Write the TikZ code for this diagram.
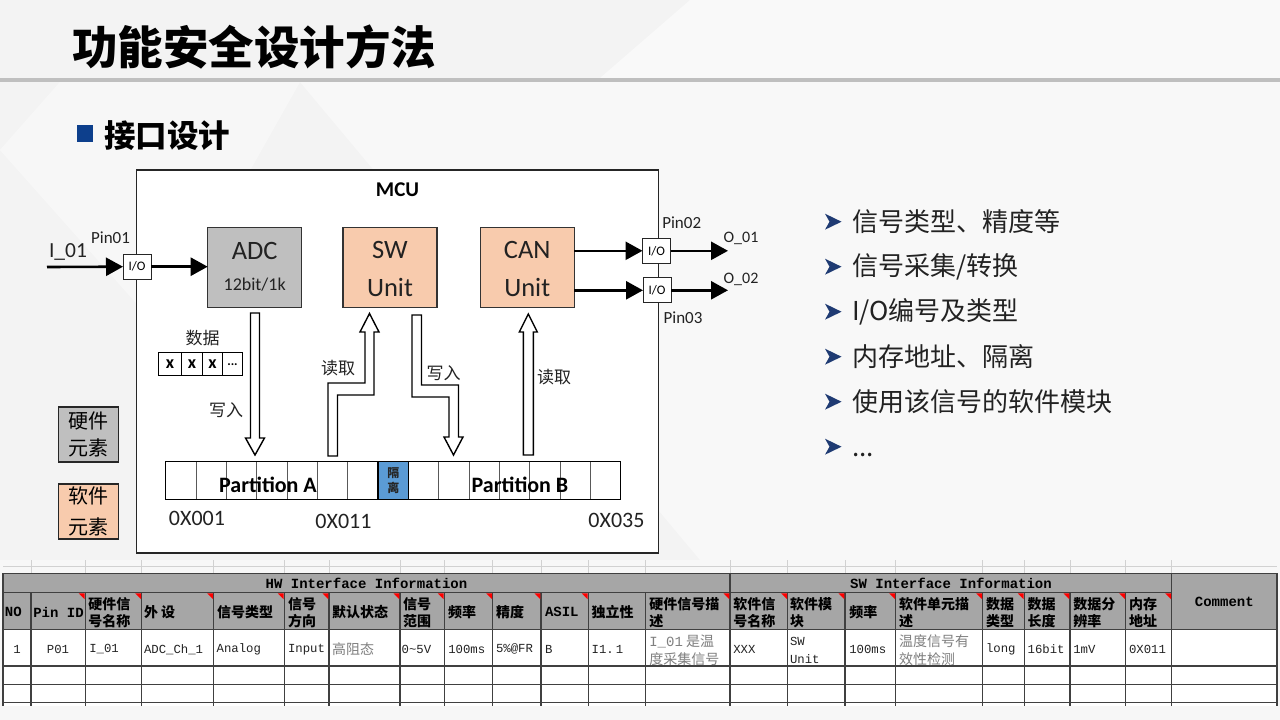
\documentclass[tikz,border=0pt]{standalone}
\usepackage{fontspec}
\setmainfont{Carlito}
\newfontfamily\cjk{Noto Sans CJK SC}
\newfontfamily\mono{Liberation Mono}
\usetikzlibrary{arrows.meta}
\definecolor{peach}{HTML}{F8CBAD}
\definecolor{hwgray}{HTML}{BFBFBF}
\definecolor{hdrgray}{HTML}{A6A6A6}
\definecolor{isoblue}{HTML}{5B9BD5}
\definecolor{navy}{HTML}{1F3B73}
\definecolor{sqblue}{HTML}{0D3F8C}
\definecolor{bgc}{HTML}{F3F3F3}
\definecolor{txt}{HTML}{222222}
\definecolor{graytxt}{HTML}{7F7F7F}
\newcommand\fsz[2]{\fontsize{#1}{#2}\selectfont}
\newcommand\bulletat[1]{\fill[navy] (825,#1-8) -- (841.5,#1) -- (825,#1+8) -- (829.5,#1) -- cycle;}
\tikzset{
  every node/.style={inner sep=0pt, outer sep=0pt},
  unitbox/.style={draw=black!80, line width=1.3pt, minimum width=94pt, minimum height=79.6pt},
  iobox/.style={draw=black!85, fill=white, line width=1pt, minimum width=28pt, minimum height=25pt, font=\fsz{13}{15}},
  thinarrow/.style={line width=2.6pt, -{Triangle[length=17pt,width=18pt]}},
  blockarrow/.style={draw=black, line width=1.4pt, fill=white, line join=miter},
  lbl/.style={font=\cjk\fsz{17}{20}, text=txt},
  pcell/.style={draw=black!65, line width=1pt, minimum width=30.33pt, minimum height=37.6pt, anchor=north west},
  xcell/.style={draw=black, line width=1.4pt, minimum height=23pt, font=\bfseries\fsz{18}{20}},
  legend/.style={draw=black!85, line width=1.2pt, minimum width=60pt, minimum height=55pt, align=center},
  bullettext/.style={anchor=west, font=\cjk\fsz{26}{30}, text=txt},
  tline/.style={draw=black!75, line width=1.2pt},
  thcn/.style={anchor=west, align=left, font=\cjk\bfseries\fsz{14}{17.5}, text=black},
  thmo/.style={anchor=west, align=left, font=\mono\bfseries\fsz{14}{17.5}, text=black},
  tdmo/.style={anchor=west, align=left, font=\mono\fsz{12.3}{18}, text=txt},
  tdcn/.style={anchor=west, align=left, font=\cjk\fsz{14}{18}, text=graytxt},
}
\begin{document}
\begin{tikzpicture}[x=1pt,y=-1pt]
\useasboundingbox (0,0) rectangle (1280,720);
% background
\fill[bgc] (0,0) rectangle (1280,720);
\fill[white,opacity=0.5] (690,0) -- (1280,0) -- (1280,78) -- (600,78) -- cycle;
\fill[white,opacity=0.45] (300,82) -- (1280,82) -- (1280,560) -- (700,560) -- cycle;
\fill[white,opacity=0.4] (0,150) -- (60,82) -- (300,82) -- (160,330) -- cycle;
\fill[white,opacity=0.4] (0,560) -- (1280,560) -- (1280,720) -- (0,720) -- cycle;
% title
\node[anchor=west, font=\cjk\bfseries\fsz{45.5}{50}, text=black] (title) at (72,47) {功能安全设计方法};
\fill[black!25] (0,78.3) rectangle (1280,81.7);
% subtitle
\fill[sqblue] (77,125) rectangle (93,142);
\node[anchor=west, font=\cjk\bfseries\fsz{31.5}{36}, text=black] (subtitle) at (104,136) {接口设计};

% MCU
\node[draw=black!85, line width=1.3pt, fill=white, minimum width=521.6pt, minimum height=383pt] (mcu) at (397.5,361.5) {};
\node[font=\bfseries\fsz{21}{24}] (mculbl) at (397.5,190) {MCU};

% units
\node[unitbox, fill=hwgray] (adc) at (254.7,267.5) {};
\node[font=\fsz{26.5}{30}, text=txt] (adct) at (254.7,251) {ADC};
\node[font=\fsz{18}{22}, text=txt] (adcs) at (254.7,285) {12bit/1k};
\node[unitbox, fill=peach] (sw) at (390,267.5) {};
\node[font=\fsz{26.5}{30}, text=txt] (swt) at (390,250) {SW};
\node[font=\fsz{26.5}{30}, text=txt] (swu) at (390,287) {Unit};
\node[unitbox, fill=peach] (can) at (527.2,267.5) {};
\node[font=\fsz{26.5}{30}, text=txt] (cant) at (527.2,250) {CAN};
\node[font=\fsz{26.5}{30}, text=txt] (canu) at (527.2,287) {Unit};

% input side
\node[iobox] (io1) at (137,266.7) {I/O};
\coordinate (inS) at (47,267);
\draw[thinarrow] (inS) -- (io1.west);
\draw[thinarrow] (io1.east) -- (adc.west |- io1.east);
\node[anchor=base west, font=\fsz{21.5}{24}, text=txt] (i01) at (49,257) {I\_01};
\node[font=\fsz{17}{20}, text=txt] (pin01) at (110.5,237.7) {Pin01};

% output side
\node[iobox] (io2) at (656.5,250.8) {I/O};
\node[iobox] (io3) at (657,290.3) {I/O};
\coordinate (o1) at (728,250.8);
\coordinate (o2) at (728,290.3);
\draw[thinarrow] (can.east |- io2.west) -- (io2.west);
\draw[thinarrow] (can.east |- io3.west) -- (io3.west);
\draw[thinarrow] (io2.east) -- (o1);
\draw[thinarrow] (io3.east) -- (o2);
\node[font=\fsz{16}{20}, text=txt] (o01) at (741,238) {O\_01};
\node[font=\fsz{16}{20}, text=txt] (o02) at (741,279) {O\_02};
\node[font=\fsz{17}{20}, text=txt] (pin02) at (681.7,223) {Pin02};
\node[font=\fsz{17}{20}, text=txt] (pin03) at (683,318) {Pin03};

% data cells
\node[xcell, minimum width=23.4pt] (x1) at (170,364.2) {x};
\node[xcell, minimum width=20.6pt] (x2) at (192,364.2) {x};
\node[xcell, minimum width=20.4pt] (x3) at (212.5,364.2) {x};
\node[xcell, minimum width=19.6pt, font=\bfseries\fsz{13}{15}] (x4) at (232.5,364.2) {...};
\node[lbl] (shuju) at (202.7,338.3) {数据};

% hollow block arrows
\draw[blockarrow] (250.5,313) -- (259.5,313) -- (259.5,438) -- (264.5,438) -- (255,455) -- (245.5,438) -- (250.5,438) -- cycle;
\draw[blockarrow] (328,456) -- (337.5,456) -- (337.5,395) -- (374,395) -- (374,332) -- (379,332) -- (369.5,313.5) -- (360,332) -- (365,332) -- (365,383) -- (328,383) -- cycle;
\draw[blockarrow] (412,315) -- (421.5,315) -- (421.5,385) -- (458.5,385) -- (458.5,437) -- (463,437) -- (453.5,455) -- (444,437) -- (449,437) -- (449,397) -- (412,397) -- cycle;
\draw[blockarrow] (523.3,455) -- (533.3,455) -- (533.3,332) -- (537.3,332) -- (528.3,314) -- (519.3,332) -- (523.3,332) -- cycle;
\node[lbl] (w1) at (226,410) {写入};
\node[lbl] (r1) at (338,368) {读取};
\node[lbl] (w2) at (443.7,373.5) {写入};
\node[lbl] (r2) at (554,377) {读取};

% partition bar
\foreach \i in {0,...,14} {
  \node[pcell] (p\i) at ({165.8+30.33*\i},461.7) {};
}
\node[pcell, fill=isoblue, draw=black, line width=1.5pt] (iso) at ({165.8+30.33*7},461.7) {};
\node[font=\cjk\bfseries\fsz{12}{15}, align=center, text=black!85] (isot) at (iso.center) {隔\\离};
\draw[black, line width=1.2pt] (165.8,461.7) rectangle (620.75,499.3);
\node[font=\bfseries\fsz{22}{26}, text=black] (pa) at (268,485) {Partition A};
\node[font=\bfseries\fsz{22}{26}, text=black] (pb) at (520,485) {Partition B};
\node[font=\fsz{22}{26}, text=txt] (a1) at (197,518) {0X001};
\node[font=\fsz{22}{26}, text=txt] (a2) at (343.5,521) {0X011};
\node[font=\fsz{22}{26}, text=txt] (a3) at (616.5,520) {0X035};

% legend
\node[legend, fill=hwgray, font=\cjk\fsz{20}{27.6}] (hwleg) at (88.3,434.5) {硬件\\元素};
\node[legend, fill=peach, font=\cjk\fsz{20}{31.6}] (swleg) at (88.3,511.5) {软件\\元素};

% bullets
\bulletat{221.7}
\node[bullettext] (b1) at (852,221.7) {信号类型、精度等};
\bulletat{266.7}
\node[bullettext] (b2) at (852,266.7) {信号采集/转换};
\bulletat{311.7}
\node[bullettext] (b3) at (852,311.7) {I/O编号及类型};
\bulletat{356.7}
\node[bullettext] (b4) at (852,356.7) {内存地址、隔离};
\bulletat{401.7}
\node[bullettext] (b5) at (852,401.7) {使用该信号的软件模块};
\bulletat{446.7}
\node[bullettext, anchor=base west] (b6) at (852,456) {{...}};

% table
\foreach \x in {31,85.3,141.7,213.7,284.3,329,400,444.3,492.7,541,588.3,645.7,730,787.7,845,895.7,982.7,1024.3,1070,1125.7,1171.7}
  \draw[black!18, line width=0.8pt] (\x,560) -- (\x,573);
\draw[black!18, line width=0.8pt] (3,566) -- (1277,566);
\fill[hdrgray] (3,573.3) rectangle (1277,629.3);
\fill[white] (3,629.3) rectangle (1277,706);
\draw[tline] (3,573.3) -- (1277,573.3);
\draw[tline] (3,592.7) -- (1171.7,592.7);
\foreach \y in {629.3,666,684.3,702.7} \draw[tline] (3,\y) -- (1277,\y);
\foreach \x in {3,730,1171.7,1277} \draw[tline] (\x,573.3) -- (\x,706);
\foreach \x in {31,85.3,141.7,213.7,284.3,329,400,444.3,492.7,541,588.3,645.7,787.7,845,895.7,982.7,1024.3,1070,1125.7}
  \draw[tline] (\x,592.7) -- (\x,706);
\foreach \x in {85.3,141.7,213.7,284.3,329,400,444.3,492.7,541,588.3,730,787.7,845,895.7,982.7,1024.3,1070,1125.7,1171.7}
  \fill[red] (\x-6.5,593.4) -- (\x-0.7,593.4) -- (\x-0.7,599.2) -- cycle;

\node[font=\mono\bfseries\fsz{14}{17}] (hwinfo) at (366.5,583) {HW Interface Information};
\node[font=\mono\bfseries\fsz{14}{17}] (swinfo) at (951,583) {SW Interface Information};
\node[font=\mono\bfseries\fsz{14}{17}] (comment) at (1224.3,602) {Comment};

% header row 2
\node[thmo] (h1) at (5,612) {NO};
\node[thmo] (h2) at (33.3,612) {Pin ID};
\node[thcn] (h3) at (88.3,612.5) {硬件信\\号名称};
\node[thcn] (h4) at (144,612) {外\ 设};
\node[thcn] (h5) at (217,612) {信号类型};
\node[thcn] (h6) at (288,612.5) {信号\\方向};
\node[thcn] (h7) at (332,612) {默认状态};
\node[thcn] (h8) at (403,612.5) {信号\\范围};
\node[thcn] (h9) at (448,612) {频率};
\node[thcn] (h10) at (496,612) {精度};
\node[thmo] (h11) at (545,612) {ASIL};
\node[thcn] (h12) at (591.7,612) {独立性};
\node[thcn] (h13) at (649.3,612.5) {硬件信号描\\述};
\node[thcn] (h14) at (733.3,612.5) {软件信\\号名称};
\node[thcn] (h15) at (790,612.5) {软件模\\块};
\node[thcn] (h16) at (849.3,612) {频率};
\node[thcn] (h17) at (899,612.5) {软件单元描\\述};
\node[thcn] (h18) at (986,612.5) {数据\\类型};
\node[thcn] (h19) at (1027.7,612.5) {数据\\长度};
\node[thcn] (h20) at (1073.3,612.5) {数据分\\辨率};
\node[thcn] (h21) at (1129,612.5) {内存\\地址};

% data row
\node[font=\mono\fsz{12.3}{18}, text=txt] (d1) at (17,649.3) {1};
\node[font=\mono\fsz{12.3}{18}, text=txt] (d2) at (58,649.3) {P01};
\node[tdmo] (d3) at (89.3,649.3) {I\_01};
\node[tdmo] (d4) at (144,649.3) {ADC\_Ch\_1};
\node[tdmo] (d5) at (216.7,649.3) {Analog};
\node[tdmo] (d6) at (288,649.3) {Input};
\node[tdcn] (d7) at (332,649.3) {高阻态};
\node[tdmo] (d8) at (401.7,649.3) {0\string~5V};
\node[tdmo] (d9) at (448.3,649.3) {100ms};
\node[tdmo] (d10) at (496,649.3) {5\%@FR};
\node[tdmo] (d11) at (545,649.3) {B};
\node[tdmo] (d12) at (591.7,649.3) {I1.\,1};
\node[tdcn] (d13) at (649.3,650) {{\mono I\_01} 是温\\度采集信号};
\node[tdmo] (d14) at (733.3,649.3) {XXX};
\node[tdmo] (d15) at (790,650) {SW\\Unit};
\node[tdmo] (d16) at (849.3,649.3) {100ms};
\node[tdcn] (d17) at (899,650) {温度信号有\\效性检测};
\node[tdmo] (d18) at (986,649.3) {long};
\node[tdmo] (d19) at (1027.7,649.3) {16bit};
\node[tdmo] (d20) at (1073.3,649.3) {1mV};
\node[tdmo] (d21) at (1129,649.3) {0X011};
\end{tikzpicture}
\end{document}
